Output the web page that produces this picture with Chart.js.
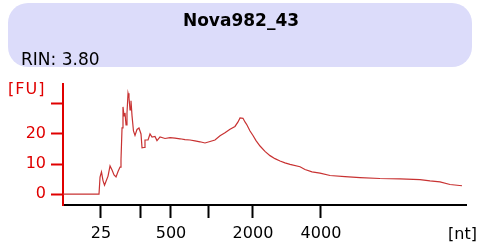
<!DOCTYPE html>
<html>
<head>
<meta charset="utf-8">
<script src="https://cdn.jsdelivr.net/npm/chart.js@4"></script>
<style>
  html, body { margin: 0; padding: 0; background: #fff; }
  #wrap { width: 478px; height: 247px; }
</style>
</head>
<body>
<div id="wrap"><canvas id="myChart" width="478" height="247"></canvas></div>
<script>
// electropherogram: migration time (s) vs fluorescence (FU)
var sampleName = "Nova982_43";
var rinText = "RIN: 3.80";
var times = [19.00, 23.50, 23.63, 23.81, 24.00, 24.19, 24.38, 24.63, 24.88, 25.13,
             25.38, 25.63, 25.88, 26.13, 26.25, 26.38, 26.50, 26.63, 26.75, 26.88,
             27.00, 27.13, 27.25, 27.38, 27.50, 27.63, 27.81, 28.00, 28.25, 28.50,
             28.75, 28.88, 29.13, 29.25, 29.63, 29.88, 30.13, 30.50, 30.75, 31.13,
             31.75, 32.38, 33.00, 33.63, 34.25, 34.88, 35.50, 36.13, 36.75, 37.38,
             38.00, 38.63, 39.25, 39.88, 40.50, 40.88, 41.13, 41.50, 41.75, 42.00,
             42.38, 42.75, 43.13, 43.63, 44.25, 44.88, 45.50, 46.13, 46.75, 47.38,
             48.63, 49.25, 50.13, 51.13, 52.38, 54.25, 56.13, 58.63, 61.13, 63.63,
             64.88, 66.13, 67.38, 68.88];
var fu = [0, 0, 5.7, 7.4, 4.5, 3, 4.3, 6, 9.4, 8,
          6.4, 5.7, 7.5, 9, 11.4, 22, 29, 26, 27, 23,
          27, 33.5, 32, 28, 31, 26, 21, 19.5, 21.5, 22,
          20, 15.4, 15.5, 18, 18, 20, 19, 19.2, 17.8, 19,
          18.5, 18.8, 18.6, 18.4, 18.1, 18, 17.7, 17.4, 17, 17.5,
          18, 19.4, 20.4, 21.6, 22.5, 24, 25.3, 25.2, 24, 23,
          21, 19.5, 17.8, 16, 14.2, 12.8, 11.8, 11, 10.4, 9.9,
          9.1, 8.2, 7.4, 7, 6.2, 5.8, 5.5, 5.2, 5.1, 4.8,
          4.4, 4.1, 3.2, 2.8];
// ladder positions (s) and sizes (nt)
var ladderTimes = [23.75, 28.75, 32.5, 37.25, 42.75, 51.25];
var ladderLabels = ["25", "", "500", "", "2000", "4000"];
var yTicks = [0, 10, 20, 30];
var yTickLabels = ["0", "10", "20", ""];

var pts = [];
for (var i = 0; i < times.length; i++) {
    pts.push({x: times[i], y: fu[i]});
}

var FONT = "'DejaVu Sans', Verdana, sans-serif";

var decor = {
    id: 'decor',
    beforeDraw: function(chart) {
        var c = chart.ctx;
        c.save();
        // title box
        c.fillStyle = "#dcdcfa";
        c.beginPath();
        c.roundRect(8, 3, 464, 64, 20);
        c.fill();
        c.fillStyle = "#000";
        c.font = "bold 17px " + FONT;
        c.textAlign = "center";
        c.textBaseline = "alphabetic";
        c.fillText(sampleName, 241, 26);
        c.font = "17px " + FONT;
        c.textAlign = "left";
        c.fillText(rinText, 21, 65);
        // axis units
        c.fillStyle = "#e00000";
        c.font = "16px " + FONT;
        c.letterSpacing = "1px";
        c.fillText("[FU]", 8, 94);
        c.letterSpacing = "0px";
        c.fillStyle = "#000";
        c.font = "16px " + FONT;
        c.textAlign = "right";
        c.fillText("[nt]", 477, 239);
        c.restore();
    }
};

const ctx = document.getElementById('myChart');
new Chart(ctx, {
    type: 'line',
    data: {
        datasets: [{
            data: pts,
            borderColor: '#c83232',
            borderWidth: 1.2,
            pointRadius: 0,
            tension: 0,
            fill: false
        }]
    },
    options: {
        responsive: false,
        animation: false,
        events: [],
        layout: { padding: { left: 0, top: 84, right: 12, bottom: 0 } },
        plugins: { legend: { display: false }, tooltip: { enabled: false } },
        scales: {
            x: {
                type: 'linear',
                min: 19,
                max: 69.38,
                afterFit: function(s) { s.height = 42; },
                afterBuildTicks: function(s) {
                    s.ticks = ladderTimes.map(function(v) { return {value: v}; });
                },
                ticks: {
                    color: '#000',
                    font: { family: FONT, size: 16 },
                    padding: 6,
                    maxRotation: 0,
                    autoSkip: false,
                    callback: function(v, idx) { return ladderLabels[idx]; }
                },
                grid: { drawOnChartArea: false, tickLength: 13, tickColor: '#000', tickWidth: 2 },
                border: { display: true, color: '#000', width: 2 }
            },
            y: {
                min: -3.6,
                max: 36.6,
                afterFit: function(s) { s.width = 63; },
                afterBuildTicks: function(s) {
                    s.ticks = yTicks.map(function(v) { return {value: v}; });
                },
                ticks: {
                    color: '#e00000',
                    font: { family: FONT, size: 16 },
                    padding: 5,
                    callback: function(v, idx) { return yTickLabels[idx]; }
                },
                grid: { drawOnChartArea: false, tickLength: 12, tickColor: '#e00000', tickWidth: 2 },
                border: { display: true, color: '#e00000', width: 2 }
            }
        }
    },
    plugins: [decor]
});
</script>
</body>
</html>
